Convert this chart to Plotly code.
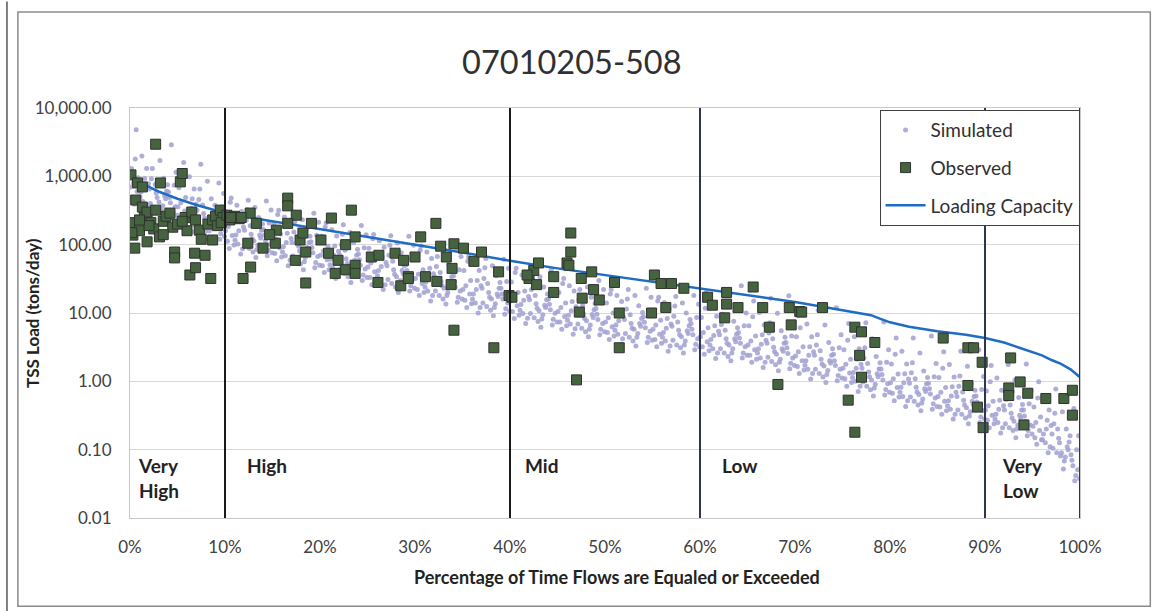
import plotly.graph_objects as go

# ---------------- data ----------------
title_text = "07010205-508"
x_tick_vals = [0, 10, 20, 30, 40, 50, 60, 70, 80, 90, 100]
x_tick_text = ["0%", "10%", "20%", "30%", "40%", "50%", "60%", "70%", "80%", "90%", "100%"]
y_tick_vals = [0.01, 0.1, 1, 10, 100, 1000, 10000]
y_tick_text = ["0.01", "0.10", "1.00", "10.00", "100.00", "1,000.00", "10,000.00"]

regime_bounds = [10, 40, 60, 90, 100]
regime_labels = ["Very<br>High", "High", "Mid", "Low", "Very<br>Low"]
regime_label_pct = [0.6, 12.1, 41.4, 62.1, 91.6]

cap_pct = [0, 0.5, 1, 2, 3, 5, 7, 10, 13, 16, 20, 25, 30, 35, 40, 45, 50, 55, 60,
           65, 70, 75, 78, 79, 80, 82, 85, 88, 90, 92, 94, 96, 97, 98, 99, 99.5, 100]
cap_load = [1100, 950, 850, 700, 600, 470, 380, 290, 245, 210, 170, 130, 100, 77, 58,
            45, 36, 29, 23, 18.5, 14.5, 11, 9.3, 8.2, 7.3, 6.3, 5.4, 4.8, 4.3, 3.7,
            3.0, 2.4, 2.05, 1.8, 1.5, 1.3, 1.15]

obs_pct = [0.1, 0.8, 0.0, 0.3, 0.6, 1.3, 1.3, 0.5, 1.0, 1.5, 1.8, 2.2, 2.5, 2.7, 2.7, 3.1,
           3.2, 3.5, 3.8, 4.2, 4.5, 4.7, 4.7, 5.0, 5.3, 5.5, 5.8, 6.0, 6.3, 6.5, 6.8, 6.9,
           6.9, 7.3, 7.9, 8.2, 8.5, 8.7, 8.7, 9.0, 9.5, 9.8, 9.2, 5.5, 2.0, 1.0, 0.2, 1.8,
           3.5, 7.5, 9.6, 10.2, 10.5,
           11.0, 11.5, 12.65, 12.4, 12.7, 11.9, 14.0, 15.3, 15.4, 16.6, 16.6, 17.5, 17.4,
           17.9, 18.2, 18.5, 18.5, 19.1, 20.1, 20.9, 21.2, 21.9, 21.6, 22.7, 22.7, 23.3,
           23.7, 23.7, 23.7, 25.4, 26.1, 26.2, 27.9, 28.8, 29.3, 28.5, 30.0, 30.6, 32.2,
           32.7, 34.1, 33.3, 33.9, 32.3, 31.1, 29.3, 35.1, 36.2, 37.0, 38.8, 39.9, 40.2,
           34.1, 38.3, 33.8, 14.7, 16.6, 13.3, 11.7, 10.6,
           42.0, 42.5, 43.0, 42.8, 41.8, 44.6, 44.6, 46.0, 46.4, 46.4, 46.2, 47.5, 47.6,
           47.3, 48.6, 48.8, 49.4, 47.0, 51.0, 51.5, 51.5, 55.2, 55.9, 57.0, 58.3, 54.9,
           56.4,
           60.8, 61.3, 62.8, 62.8, 62.6, 64.0, 65.6, 66.6, 67.3, 69.4, 69.6, 70.5, 68.2,
           70.7, 72.9, 76.3, 77.0, 78.4, 76.8, 77.0, 75.6, 76.3,
           85.6, 88.2, 88.8, 89.7, 88.2, 89.2, 89.8, 92.7, 92.5, 92.5, 93.7, 94.5, 96.4,
           98.3, 99.2, 99.2, 94.1]
obs_load = [1050, 800, 210, 138, 450, 355, 700, 89, 160, 250, 300, 210, 170, 2950, 320, 130,
            800, 220, 260, 290, 180, 78, 64, 200, 830, 1100, 250, 160, 36, 300, 75, 46,
            230, 163, 70, 200, 32, 230, 117, 260, 320, 250, 190, 220, 190, 230, 150, 110,
            140, 120, 210, 270, 230,
            260, 240, 290, 105, 47, 32, 89, 105, 163, 480, 370, 270, 59,
            117, 148, 78, 27.5, 205, 117, 75, 245, 59, 38, 100, 43, 320,
            130, 50, 38, 66, 28, 70, 75, 59, 34, 25, 66, 130, 205,
            95, 103, 66, 45, 29, 34, 32, 89, 57, 78, 40, 18, 17,
            5.6, 3.1, 26, 140, 205, 205, 250, 250,
            32, 42, 54, 26, 36, 34, 20, 54, 78, 148, 50, 32, 16.5,
            10.3, 40, 22, 15.5, 1.05, 28, 3.1, 10, 36, 27, 27, 23, 10,
            12,
            17, 13, 20, 13.5, 8.5, 12, 24, 12, 6.2, 12, 6.7, 10.5, 0.9,
            10.3, 12, 6.2, 5.3, 3.7, 2.4, 1.15, 0.53, 0.18,
            4.3, 3.1, 3.1, 1.9, 0.87, 0.42, 0.21, 2.2, 0.8, 0.62, 0.98, 0.67, 0.56,
            0.56, 0.74, 0.32, 0.23]

# simulated daily loads, read per 1 % column (column start = sim_col)
sim_col = list(range(100))
sim_load = [
    [700, 1800, 490, 950, 390, 1300, 600, 800, 430, 4800],
    [500, 930, 1980, 370, 680, 590, 1300, 430, 780, 310],
    [650, 350, 920, 490, 3000, 400, 570, 1300, 310, 760],
    [420, 940, 240, 610, 370, 1700, 470, 320, 750, 520],
    [590, 300, 410, 1150, 250, 490, 360, 2900, 270, 740],
    [360, 940, 250, 490, 200, 680, 310, 410, 220, 1600],
    [250, 470, 990, 190, 340, 290, 650, 220, 390, 155],
    [320, 175, 460, 245, 1500, 200, 285, 650, 157, 380],
    [210, 470, 122, 305, 183, 850, 235, 160, 376, 260],
    [290, 144, 200, 560, 120, 240, 176, 800, 132, 360],
    [160, 416, 112, 216, 88, 304, 136, 184, 99, 480],
    [116, 218, 377, 87, 160, 138, 305, 102, 181, 73],
    [162, 88, 230, 122, 445, 101, 142, 324, 78, 189],
    [113, 250, 65, 163, 98, 350, 125, 85, 200, 138],
    [167, 83, 115, 322, 69, 138, 101, 437, 76, 207],
    [106, 276, 74, 143, 58, 201, 90, 122, 66, 318],
    [78, 147, 255, 59, 108, 93, 206, 69, 123, 49],
    [108, 59, 153, 81, 297, 68, 95, 216, 52, 126],
    [75, 166, 43, 108, 65, 232, 83, 56, 133, 91],
    [110, 55, 76, 213, 46, 91, 67, 289, 50, 137],
    [70, 182, 49, 95, 39, 133, 60, 81, 43, 210],
    [51, 96, 166, 38, 70, 61, 134, 45, 80, 32],
    [71, 38, 100, 53, 195, 44, 62, 142, 34, 83],
    [49, 108, 28, 70, 42, 151, 54, 37, 86, 59],
    [73, 36, 50, 140, 30, 60, 44, 190, 33, 90],
    [47, 122, 33, 63, 26, 89, 40, 54, 29, 141],
    [35, 66, 114, 26, 48, 42, 92, 31, 55, 22],
    [49, 27, 70, 37, 135, 31, 43, 98, 24, 57],
    [34, 76, 20, 49, 30, 106, 38, 26, 61, 42],
    [51, 25, 35, 98, 21, 42, 31, 133, 23, 63],
    [32, 83, 22, 43, 18, 61, 27, 37, 20, 96],
    [24, 45, 78, 18, 33, 28.5, 63, 21, 37.5, 15],
    [34, 18, 48, 25, 92, 21, 29, 67, 16, 39],
    [23, 52, 13.5, 34, 20, 73, 26, 18, 42, 29],
    [35, 17, 24, 67, 14.4, 29, 21, 91, 16, 43],
    [22, 57, 15.4, 30, 12, 42, 19, 25, 13.6, 66],
    [16, 30, 52, 12, 22, 19, 42, 14, 25, 10],
    [23, 12.4, 32, 17, 63, 14, 20, 46, 11, 27],
    [16, 35, 9.1, 23, 13.7, 49, 17.5, 12, 28, 19],
    [23, 11.5, 16, 45, 9.6, 19, 14, 61, 10.6, 29],
    [15, 39, 10.5, 20, 8.3, 28.5, 12.8, 17, 9.3, 45],
    [11, 21, 36, 8.4, 15.4, 13.3, 29, 9.8, 17.5, 7],
    [15.6, 8.5, 22, 11.7, 43, 9.8, 13.7, 31, 7.5, 18],
    [10.8, 24, 6.2, 15.6, 9.4, 34, 12, 8.2, 19, 13],
    [16, 8.1, 11.2, 31, 6.7, 13.4, 9.9, 43, 7.4, 20],
    [10.5, 27, 7.4, 14, 5.8, 20, 8.9, 12, 6.5, 32],
    [7.8, 14.7, 25, 5.9, 10.8, 9.3, 21, 6.9, 12.3, 4.9],
    [11, 6, 15.6, 8.3, 30, 6.9, 9.7, 22, 5.3, 12.9],
    [7.7, 17, 4.5, 11.2, 6.7, 24, 8.6, 5.8, 13.8, 9.5],
    [11.6, 5.8, 8, 22, 4.8, 9.6, 7, 30, 5.3, 14.4],
    [7.4, 19, 5.2, 10, 4.1, 14, 6.3, 8.5, 4.6, 22],
    [5.6, 10.5, 18, 4.2, 7.7, 6.7, 14.7, 4.9, 8.8, 3.5],
    [8, 4.4, 11.4, 6, 22, 5, 7, 16, 3.9, 9.4],
    [5.8, 12.8, 3.3, 8.3, 5, 18, 6.4, 4.4, 10.2, 7],
    [8.8, 4.4, 6.1, 17, 3.7, 7.3, 5.4, 23, 4, 11],
    [5.8, 15, 4.1, 7.8, 3.2, 11, 4.9, 6.7, 3.6, 17],
    [4.4, 8.3, 14.3, 3.3, 6, 5.2, 11.6, 3.9, 6.9, 2.75],
    [6.4, 3.4, 9, 4.8, 17.5, 4, 5.6, 12.7, 3.1, 7.4],
    [4.5, 10, 2.6, 6.5, 3.9, 14, 5, 3.4, 8, 5.5],
    [7, 3.5, 4.8, 13.4, 2.9, 5.8, 4.2, 18, 3.2, 8.6],
    [4.5, 11.7, 3.2, 6.1, 2.5, 8.6, 3.8, 5.2, 2.8, 20],
    [3.4, 6.5, 13.8, 2.6, 4.7, 4.1, 9, 3, 5.4, 2.15],
    [4.8, 2.6, 6.8, 3.6, 22, 3, 4.2, 9.6, 2.3, 5.6],
    [3.4, 7.6, 2, 4.9, 3, 13.7, 3.8, 2.6, 6.1, 4.2],
    [5.2, 2.6, 3.6, 10, 2.2, 4.3, 3.2, 25, 2.4, 6.5],
    [3.4, 8.8, 2.4, 4.6, 1.9, 6.5, 2.9, 3.9, 2.1, 15],
    [2.6, 4.8, 10.2, 1.9, 3.5, 3, 6.7, 2.2, 4, 1.6],
    [3.6, 1.95, 5.1, 2.7, 16.5, 2.25, 3.15, 7.2, 1.75, 4.2],
    [2.5, 5.5, 1.43, 3.6, 2.1, 9.9, 2.75, 1.9, 4.4, 3],
    [3.7, 1.84, 2.55, 7.1, 1.53, 3.1, 2.2, 17.9, 1.7, 4.6],
    [2.35, 6.1, 1.65, 3.2, 1.3, 4.5, 2, 2.7, 1.46, 10.6],
    [1.72, 3.2, 6.9, 1.3, 2.4, 2, 4.5, 1.5, 2.7, 1.08],
    [2.4, 1.3, 3.4, 1.8, 11, 1.5, 2.1, 4.8, 1.16, 2.8],
    [1.67, 3.7, 0.96, 2.4, 1.44, 6.7, 1.85, 1.26, 3, 2],
    [2.5, 1.22, 1.7, 4.8, 1.02, 2, 1.5, 11.9, 1.12, 3.1],
    [1.55, 4, 1.09, 2.1, 0.85, 2.9, 1.32, 1.78, 0.96, 7],
    [1.14, 2.1, 4.5, 0.85, 1.56, 1.35, 3, 1, 1.78, 0.71],
    [1.56, 0.85, 2.2, 1.17, 7.2, 0.98, 1.37, 3.1, 0.75, 1.82],
    [1.05, 2.3, 0.61, 1.52, 0.91, 4.2, 1.17, 0.8, 1.87, 1.29],
    [1.52, 0.76, 1.05, 2.9, 0.63, 1.26, 0.92, 7.4, 0.69, 1.9],
    [0.95, 2.5, 0.67, 1.28, 0.52, 1.8, 0.81, 1.09, 0.59, 4.3],
    [0.69, 1.29, 2.75, 0.52, 0.95, 0.82, 1.8, 0.6, 1.08, 0.43],
    [0.94, 0.51, 1.33, 0.7, 4.3, 0.59, 0.82, 1.87, 0.45, 1.09],
    [0.64, 1.42, 0.37, 0.92, 0.55, 2.6, 0.71, 0.48, 1.14, 0.78],
    [0.94, 0.47, 0.65, 1.82, 0.39, 0.78, 0.57, 4.6, 0.43, 1.17],
    [0.6, 1.56, 0.42, 0.81, 0.33, 1.14, 0.51, 0.69, 0.37, 2.7],
    [0.44, 0.83, 1.76, 0.33, 0.61, 0.52, 1.16, 0.39, 0.69, 0.28],
    [0.6, 0.33, 0.85, 0.45, 2.75, 0.38, 0.53, 1.2, 0.29, 0.7],
    [0.41, 0.92, 0.24, 0.6, 0.36, 1.66, 0.46, 0.31, 0.74, 0.51],
    [0.61, 0.3, 0.42, 1.18, 0.25, 0.5, 0.37, 2.9, 0.28, 0.76],
    [0.38, 0.99, 0.27, 0.51, 0.21, 0.72, 0.32, 0.44, 0.24, 1.7],
    [0.28, 0.53, 1.12, 0.21, 0.39, 0.33, 0.74, 0.25, 0.44, 0.175],
    [0.38, 0.21, 0.54, 0.29, 1.76, 0.24, 0.34, 0.77, 0.19, 0.45],
    [0.26, 0.58, 0.15, 0.38, 0.23, 1.04, 0.29, 0.2, 0.46, 0.32],
    [0.38, 0.19, 0.26, 0.73, 0.16, 0.31, 0.23, 1.8, 0.17, 0.47],
    [0.22, 0.57, 0.15, 0.3, 0.12, 0.42, 0.19, 0.25, 0.14, 0.99],
    [0.14, 0.27, 0.58, 0.11, 0.2, 0.17, 0.38, 0.126, 0.225, 0.09],
    [0.17, 0.09, 0.24, 0.126, 0.77, 0.105, 0.147, 0.34, 0.081, 0.2],
    [0.09, 0.2, 0.052, 0.13, 0.078, 0.36, 0.1, 0.068, 0.16, 0.11],
    [0.084, 0.042, 0.058, 0.16, 0.035, 0.07, 0.051, 0.4, 0.038, 0.1],
]

# ---------------- styling ----------------
FONT = "Lato, 'Open Sans', sans-serif"
# where each reading sits inside its 1 % column
col_spread = [0.05, 0.55, 0.25, 0.85, 0.45, 0.15, 0.75, 0.35, 0.95, 0.65]

sim_x, sim_y = [], []
for c, row in zip(sim_col, sim_load):
    for k, v in enumerate(row):
        sim_x.append(c + col_spread[k])
        sim_y.append(v)

fig = go.Figure()
fig.add_trace(go.Scatter(
    x=sim_x, y=sim_y, mode="markers", name="Simulated",
    marker=dict(size=5, color="rgba(160,160,210,0.85)", line=dict(width=0)),
    legendgroup="a", legendrank=1))
fig.add_trace(go.Scatter(
    x=cap_pct, y=cap_load, mode="lines", name="Loading Capacity",
    line=dict(color="#1f6cc4", width=2.5),
    legendgroup="c", legendrank=3))
fig.add_trace(go.Scatter(
    x=obs_pct, y=obs_load, mode="markers", name="Observed",
    marker=dict(symbol="square", size=10, color="#466340",
                line=dict(color="#2e332d", width=1)),
    legendgroup="b", legendrank=2))

shapes = []
for b in regime_bounds:
    shapes.append(dict(type="line", xref="x", yref="paper", x0=b, x1=b, y0=0, y1=1,
                       line=dict(color="#1a1a1a" if b < 50 else "#2f3550", width=2),
                       layer="above"))
# outer chart frame
shapes.append(dict(type="rect", xref="paper", yref="paper",
                   x0=-0.118, x1=1.074, y0=-0.215, y1=1.234,
                   line=dict(color="#8a8a8a", width=1.5)))
shapes.append(dict(type="line", xref="paper", yref="paper",
                   x0=-0.1295, x1=-0.1295, y0=-0.23, y1=1.26,
                   line=dict(color="#555555", width=1.5)))

annotations = []
for lab, px in zip(regime_labels, regime_label_pct):
    two = "<br>" in lab
    annotations.append(dict(
        x=px, y=(-1.42 if two else -1.23), xref="x", yref="y",
        text="<b>" + lab + "</b>", showarrow=False, xanchor="left", yanchor="middle",
        align="left", font=dict(family=FONT, size=19, color="#222222")))
annotations.append(dict(
    x=0.5126, y=-0.144, xref="paper", yref="paper", showarrow=False,
    xanchor="center", yanchor="middle",
    text="<b>Percentage of Time Flows are Equaled or Exceeded</b>",
    font=dict(family=FONT, size=18, color="#222222")))
annotations.append(dict(
    x=-0.1032, y=0.5, xref="paper", yref="paper", showarrow=False,
    xanchor="center", yanchor="middle", textangle=-90,
    text="<b>TSS Load (tons/day)</b>",
    font=dict(family=FONT, size=17, color="#222222")))

fig.update_layout(
    width=1167, height=611,
    margin=dict(l=130, r=87, t=108, b=93),
    paper_bgcolor="white", plot_bgcolor="white",
    font=dict(family=FONT, color="#404040"),
    title=dict(text=title_text, x=0.49, xanchor="center", y=0.898, yanchor="middle",
               font=dict(family=FONT, size=32.5, color="#303030")),
    shapes=shapes, annotations=annotations,
    legend=dict(x=0.789, y=0.995, xanchor="left", yanchor="top",
                bgcolor="white", bordercolor="#404040", borderwidth=1,
                traceorder="grouped", tracegroupgap=10, itemwidth=40,
                font=dict(family=FONT, size=19, color="#303030")),
    showlegend=True,
)
fig.update_xaxes(
    range=[0, 100], tickvals=x_tick_vals, ticktext=x_tick_text, showgrid=False,
    showline=True, mirror=True, linecolor="#c8c8c8", linewidth=1,
    zeroline=False, ticks="", ticklabelstandoff=14,
    tickfont=dict(family=FONT, size=17, color="#404040"))
fig.update_yaxes(
    type="log", range=[-2, 4], tickvals=y_tick_vals, ticktext=y_tick_text,
    showgrid=True, gridcolor="#d9d9d9", gridwidth=1,
    showline=True, mirror=True, linecolor="#c8c8c8", linewidth=1,
    zeroline=False, ticks="", ticklabelstandoff=14,
    tickfont=dict(family=FONT, size=17, color="#404040"))

fig.write_html("out.html")
